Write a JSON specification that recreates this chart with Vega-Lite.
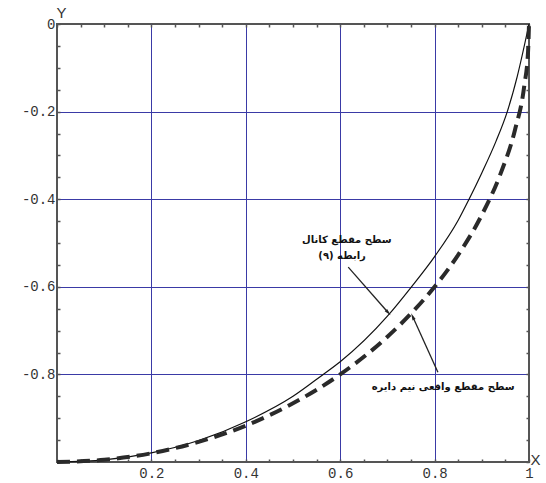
{
  "$schema": "https://vega.github.io/schema/vega-lite/v6.json",
  "width": 472,
  "height": 438,
  "autosize": {"type": "none"},
  "padding": {"left": 57, "top": 24, "right": 17, "bottom": 21},
  "background": "white",
  "config": {
    "view": {"stroke": "#555555", "strokeWidth": 2},
    "axis": {"domain": false, "labelFont": "Liberation Mono", "labelFontSize": 14, "labelColor": "#333333", "titleFont": "Liberation Sans", "titleFontWeight": "normal", "titleFontSize": 15, "titleColor": "#333333", "tickColor": "#555555", "tickWidth": 1.5, "labelOverlap": false, "labelFlush": false}
  },
  "datasets": {
    "curves": [
      {"x": 0, "y": -1, "s": "canal"},
      {"x": 0.1, "y": -0.995, "s": "canal"},
      {"x": 0.2, "y": -0.979, "s": "canal"},
      {"x": 0.3, "y": -0.951, "s": "canal"},
      {"x": 0.4, "y": -0.908, "s": "canal"},
      {"x": 0.5, "y": -0.850, "s": "canal"},
      {"x": 0.564, "y": -0.800, "s": "canal"},
      {"x": 0.6, "y": -0.771, "s": "canal"},
      {"x": 0.7, "y": -0.667, "s": "canal"},
      {"x": 0.751, "y": -0.600, "s": "canal"},
      {"x": 0.8, "y": -0.531, "s": "canal"},
      {"x": 0.85, "y": -0.448, "s": "canal"},
      {"x": 0.873, "y": -0.400, "s": "canal"},
      {"x": 0.9, "y": -0.340, "s": "canal"},
      {"x": 0.93, "y": -0.268, "s": "canal"},
      {"x": 0.954, "y": -0.200, "s": "canal"},
      {"x": 0.975, "y": -0.120, "s": "canal"},
      {"x": 1, "y": 0, "s": "canal"},
      {"x": 0, "y": -1, "s": "circle"},
      {"x": 0.1, "y": -0.995, "s": "circle"},
      {"x": 0.2, "y": -0.980, "s": "circle"},
      {"x": 0.3, "y": -0.954, "s": "circle"},
      {"x": 0.4, "y": -0.917, "s": "circle"},
      {"x": 0.5, "y": -0.866, "s": "circle"},
      {"x": 0.6, "y": -0.800, "s": "circle"},
      {"x": 0.7, "y": -0.714, "s": "circle"},
      {"x": 0.75, "y": -0.661, "s": "circle"},
      {"x": 0.8, "y": -0.600, "s": "circle"},
      {"x": 0.85, "y": -0.527, "s": "circle"},
      {"x": 0.9, "y": -0.436, "s": "circle"},
      {"x": 0.94, "y": -0.341, "s": "circle"},
      {"x": 0.97, "y": -0.243, "s": "circle"},
      {"x": 0.99, "y": -0.141, "s": "circle"},
      {"x": 0.998, "y": -0.063, "s": "circle"},
      {"x": 1, "y": 0, "s": "circle"}
    ],
    "labels": [
      {"x": 0.614, "y": -0.493, "t": "سطح مقطع کانال"},
      {"x": 0.604, "y": -0.530, "t": "رابطه (۹)"},
      {"x": 0.818, "y": -0.829, "t": "سطح مقطع واقعی نیم دایره"}
    ],
    "arrows": [
      {"x": 0.617, "y": -0.555, "x2": 0.701, "y2": -0.658, "a": "canal"},
      {"x": 0.807, "y": -0.795, "x2": 0.754, "y2": -0.669, "a": "circle"}
    ]
  },
  "layer": [
    {
      "data": {"name": "curves"},
      "transform": [{"filter": "datum.s == 'canal'"}],
      "mark": {"type": "line", "color": "#111111", "strokeWidth": 1.2, "interpolate": "monotone"},
      "encoding": {
        "x": {"field": "x", "type": "quantitative", "scale": {"domain": [0, 1], "nice": false, "zero": false},
          "axis": {"orient": "bottom", "title": "X", "titleAngle": 0, "titleX": 478, "titleY": -3, "titleAlign": "center", "titleBaseline": "middle",
            "values": [0, 0.05, 0.1, 0.15, 0.2, 0.25, 0.3, 0.35, 0.4, 0.45, 0.5, 0.55, 0.6, 0.65, 0.7, 0.75, 0.8, 0.85, 0.9, 0.95, 1],
            "tickSize": -3, "labelPadding": 7, "labelBaseline": "top",
            "labelExpr": "indexof([0.2,0.4,0.6,0.8,1], datum.value) >= 0 ? '' + datum.value : ''",
            "grid": true, "gridColor": "#3a3aa6", "gridWidth": 1,
            "gridOpacity": {"condition": {"test": "indexof([0.2,0.4,0.6,0.8], datum.value) < 0", "value": 0}, "value": 1}}},
        "y": {"field": "y", "type": "quantitative", "scale": {"domain": [-1, 0], "nice": false, "zero": false},
          "axis": {"orient": "left", "title": "Y", "titleAngle": 0, "titleX": 4, "titleY": -12, "titleAlign": "center", "titleBaseline": "middle",
            "values": [-1, -0.95, -0.9, -0.85, -0.8, -0.75, -0.7, -0.65, -0.6, -0.55, -0.5, -0.45, -0.4, -0.35, -0.3, -0.25, -0.2, -0.15, -0.1, -0.05, 0],
            "tickSize": -3, "labelPadding": 5,
            "labelExpr": "indexof([0,-0.2,-0.4,-0.6,-0.8], datum.value) >= 0 ? '' + datum.value : ''",
            "grid": true, "gridColor": "#3a3aa6", "gridWidth": 1,
            "gridOpacity": {"condition": {"test": "indexof([-0.2,-0.4,-0.6,-0.8], datum.value) < 0", "value": 0}, "value": 1}}}
      }
    },
    {
      "data": {"name": "curves"},
      "transform": [{"filter": "datum.s == 'circle'"}],
      "mark": {"type": "line", "color": "#2a2a2a", "strokeWidth": 4, "strokeDash": [13, 7], "interpolate": "monotone"},
      "encoding": {
        "x": {"field": "x", "type": "quantitative", "scale": {"domain": [0, 1], "nice": false, "zero": false},
          "axis": {"orient": "top", "title": null, "labels": false, "grid": false, "tickSize": -3,
            "values": [0, 0.05, 0.1, 0.15, 0.2, 0.25, 0.3, 0.35, 0.4, 0.45, 0.5, 0.55, 0.6, 0.65, 0.7, 0.75, 0.8, 0.85, 0.9, 0.95, 1]}},
        "y": {"field": "y", "type": "quantitative", "scale": {"domain": [-1, 0], "nice": false, "zero": false},
          "axis": {"orient": "right", "title": null, "labels": false, "grid": false, "tickSize": -3,
            "values": [-1, -0.95, -0.9, -0.85, -0.8, -0.75, -0.7, -0.65, -0.6, -0.55, -0.5, -0.45, -0.4, -0.35, -0.3, -0.25, -0.2, -0.15, -0.1, -0.05, 0]}}
      }
    },
    {
      "data": {"name": "arrows"},
      "mark": {"type": "rule", "color": "#222222", "strokeWidth": 1.3},
      "encoding": {
        "x": {"field": "x", "type": "quantitative", "axis": null},
        "y": {"field": "y", "type": "quantitative", "axis": null},
        "x2": {"field": "x2"},
        "y2": {"field": "y2"}
      }
    },
    {
      "data": {"name": "arrows"},
      "transform": [{"filter": "datum.a == 'canal'"}],
      "mark": {"type": "point", "shape": "M0,-1L0.4,0.7L-0.4,0.7Z", "filled": true, "color": "#222222", "size": 70, "opacity": 1, "angle": 138},
      "encoding": {
        "x": {"field": "x2", "type": "quantitative", "axis": null},
        "y": {"field": "y2", "type": "quantitative", "axis": null}
      }
    },
    {
      "data": {"name": "arrows"},
      "transform": [{"filter": "datum.a == 'circle'"}],
      "mark": {"type": "point", "shape": "M0,-1L0.4,0.7L-0.4,0.7Z", "filled": true, "color": "#222222", "size": 70, "opacity": 1, "angle": 336},
      "encoding": {
        "x": {"field": "x2", "type": "quantitative", "axis": null},
        "y": {"field": "y2", "type": "quantitative", "axis": null}
      }
    },
    {
      "data": {"name": "labels"},
      "mark": {"type": "text", "font": "DejaVu Sans", "fontWeight": "bold", "fontSize": 10, "color": "#111111", "align": "center", "baseline": "middle"},
      "encoding": {
        "x": {"field": "x", "type": "quantitative", "axis": null},
        "y": {"field": "y", "type": "quantitative", "axis": null},
        "text": {"field": "t"}
      }
    }
  ],
  "resolve": {"axis": {"x": "independent", "y": "independent"}}
}
